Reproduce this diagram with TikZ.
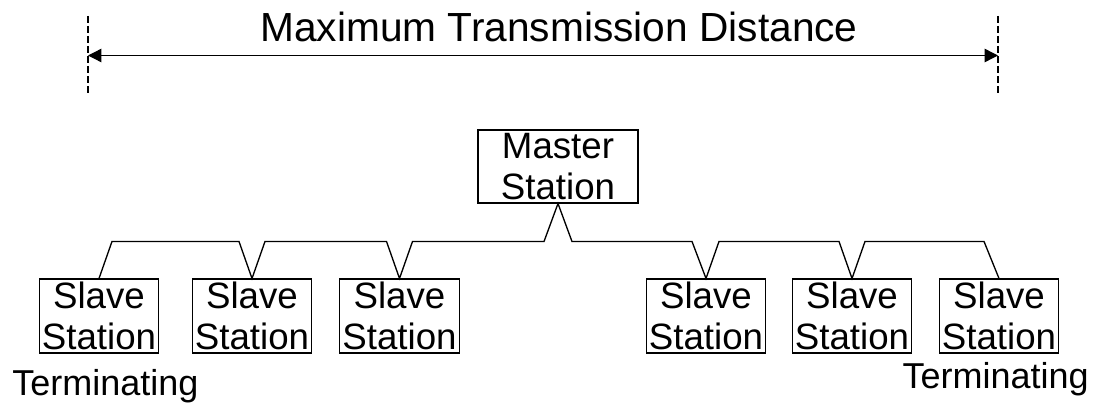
\documentclass[tikz,border=0pt]{standalone}
\usepackage{fontspec}
\setmainfont{Liberation Sans}
\usepackage{tikz}
\usetikzlibrary{arrows.meta,positioning,calc}
\tikzset{station/.style={draw=black,line width=0.8pt,inner sep=0pt,align=center,
  minimum width=89.5pt,minimum height=55.5pt,font=\fontsize{27.5}{30.5}\selectfont}}
\tikzset{bus/.style={line width=1pt}}
\tikzset{bound/.style={line width=1.6pt,dash pattern=on 5pt off 2.5pt}}

\begin{document}
\begin{tikzpicture}[x=0.75pt,y=-0.75pt]
\useasboundingbox (0,0) rectangle (1094,403);
% \draw[help lines] (0,0) grid (1094,403);
\coordinate (l0) at (88,16);
\coordinate (l1) at (88,95);
\coordinate (r0) at (998,16);
\coordinate (r1) at (998,95);
\node (title) [anchor=base,inner sep=0pt,font=\fontsize{30.5}{34}\selectfont] at (559,42) {Maximum Transmission Distance};
%
\node (m) [station,minimum width=120pt,minimum height=54.75pt] at (558,166.5) {Master\\Station};
\node (s1) [station] at (99,316) {Slave\\Station};
\node (s2) [station] at (252,316) {Slave\\Station};
\node (s3) [station] at (399.5,316) {Slave\\Station};
\node (s4) [station] at (706,316) {Slave\\Station};
\node (s5) [station] at (852,316) {Slave\\Station};
\node (s6) [station] at (999,316) {Slave\\Station};
\node (t1) [anchor=base west,inner sep=0pt,font=\fontsize{27}{30}\selectfont] at (12,395) {Terminating};
\node (t2) [anchor=base east,inner sep=0pt,font=\fontsize{27}{30}\selectfont] at (1089,388) {Terminating};
%
\draw[bound] (l0) -- (l1);
\draw[bound] (r0) -- (r1);
\path[{Triangle[length=10pt,width=10pt]}-{Triangle[length=10pt,width=10pt]},line width=1pt]
  ($(l0)!0.5!(l1)$) edge ($(r0)!0.5!(r1)$);
% bus
\draw[bus] (s1.north) -- ++(13,-37) -- ($(s2.north)+(-13,-37)$) -- (s2.north)
  -- ++(13,-37) -- ($(s3.north)+(-13,-37)$) -- (s3.north)
  -- ++(13,-37) -- ($(m.south)+(-14,38)$) -- (m.south)
  -- ++(14,38) -- ($(s4.north)+(-14,-37)$) -- (s4.north)
  -- ++(13,-37) -- ($(s5.north)+(-13,-37)$) -- (s5.north)
  -- ++(13,-37) -- ($(s6.north)+(-15,-37)$) -- (s6.north);
\end{tikzpicture}
\end{document}
